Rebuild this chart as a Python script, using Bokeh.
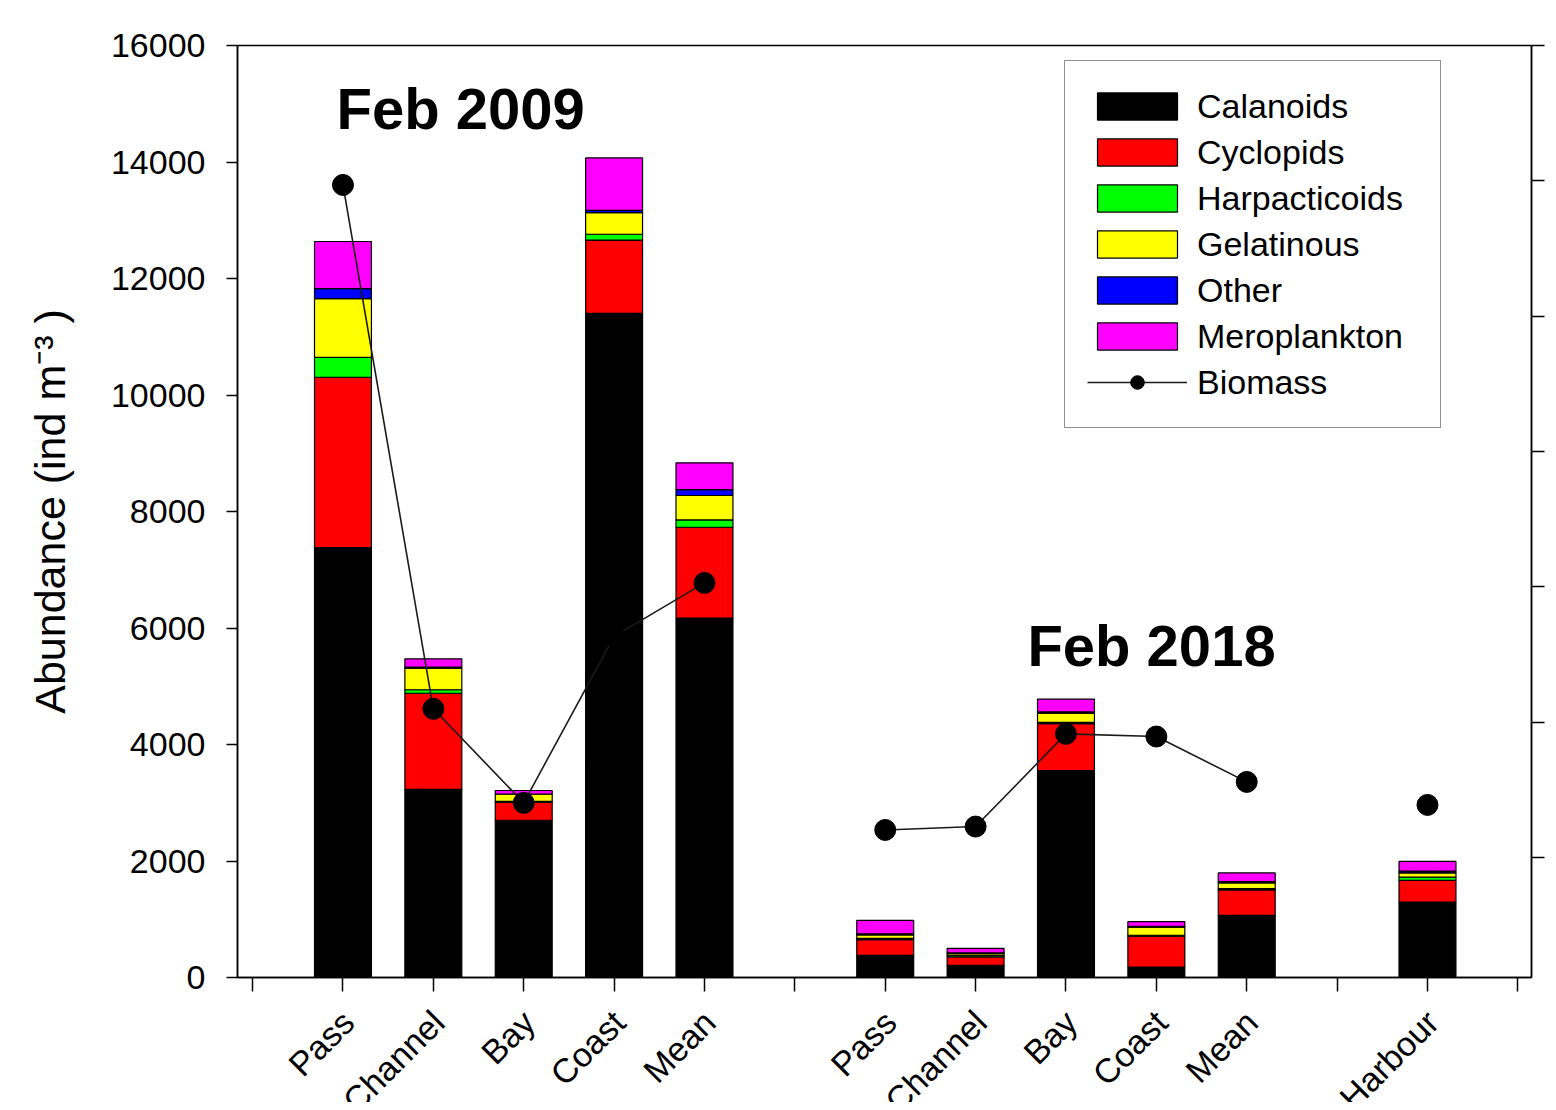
import math
from bokeh.plotting import figure
from bokeh.layouts import column
from bokeh.models import (Range1d, LinearAxis, FixedTicker, Legend, LegendItem,
                          Label, ColumnDataSource)
from bokeh.embed import file_html
from bokeh.resources import INLINE
from bokeh.core.properties import value

# ---------------- data ----------------
sites = ["Pass", "Channel", "Bay", "Coast", "Mean",
         "Pass", "Channel", "Bay", "Coast", "Mean", "Harbour"]
years = ["2009"] * 5 + ["2018"] * 6
slot = [1, 2, 3, 4, 5, 7, 8, 9, 10, 11, 13]

calanoids     = [7380, 3230, 2700, 11400, 6170, 380, 210, 3550, 180, 1065, 1295]
cyclopids     = [2925, 1650,  310,  1260, 1560, 270, 145,  810, 530,  440,  372]
harpacticoids = [ 340,   60,   15,   100,  125,  20,  30,   20,  15,   20,   55]
gelatinous    = [1010,  370,  125,   370,  420,  60,  30,  160, 140,  100,   75]
other         = [ 170,   20,    0,    40,  100,  20,  10,   20,  15,   20,   30]
meroplankton  = [ 810,  140,   60,   900,  460, 230,  75,  220,  80,  150,  165]
biomass       = [99.4, 22.0,  8.1,  32.7, 40.6, 4.1, 4.6, 18.3, 17.9, 11.2,  7.8]

series = ["Calanoids", "Cyclopids", "Harpacticoids", "Gelatinous", "Other", "Meroplankton"]
colors = ["#000000", "#FF0000", "#00FF00", "#FFFF00", "#0000FF", "#FF00FF"]
x_ticks = list(range(0, 15))
y_ticks = list(range(0, 16001, 2000))
bio_ticks = [0, 20, 40, 60, 80, 100, 120]
group_titles = [("Feb 2009", 0.928, 14918), ("Feb 2018", 8.573, 5705)]

FONT = "Liberation Sans"

src = ColumnDataSource(dict(x=slot, site=sites, year=years,
                            Calanoids=calanoids, Cyclopids=cyclopids,
                            Harpacticoids=harpacticoids, Gelatinous=gelatinous,
                            Other=other, Meroplankton=meroplankton, biomass=biomass))

# biomass line with breaks where slots are not adjacent
lx, ly = [], []
for i, (s, b) in enumerate(zip(slot, biomass)):
    if i > 0 and s - slot[i - 1] > 1:
        lx.append(float("nan")); ly.append(float("nan"))
    lx.append(s); ly.append(b)

xr = Range1d(-0.167, 14.151)
p = figure(width=1548, height=997,
           x_range=xr, y_range=Range1d(0, 16000),
           output_backend="svg", toolbar_location=None,
           min_border_left=237, min_border_right=17,
           min_border_top=45, min_border_bottom=20)
p.background_fill_color = "white"
p.border_fill_color = "white"
p.xgrid.visible = False
p.ygrid.visible = False
p.outline_line_color = "black"
p.outline_line_width = 1.5

p.extra_y_ranges = {"bio": Range1d(-17.7, 120)}

# bars
bars = p.vbar_stack(series, x="x", width=0.63, source=src, color=colors,
                    line_color="black", line_width=1.2)
for r, c in zip(bars, colors):
    r.glyph.fill_color = c
    r.glyph.line_color = "black"

# biomass
line_r = p.line(lx, ly, y_range_name="bio", line_color="#1a1a1a", line_width=1.6)
pts_r = p.scatter("x", "biomass", source=src, y_range_name="bio", size=21,
                  marker="circle", fill_color="black", line_color="black")

# axes
xa = p.xaxis[0]
xa.ticker = FixedTicker(ticks=x_ticks)
xa.major_label_overrides = {t: "" for t in x_ticks}
xa.major_label_standoff = 0
xa.major_tick_out = 14
xa.major_tick_in = 0
xa.minor_tick_out = 0
xa.minor_tick_in = 0
xa.axis_line_width = 1.5
xa.major_tick_line_width = 1.5

ya = p.yaxis[0]
ya.ticker = FixedTicker(ticks=y_ticks)
ya.major_label_text_font = FONT
ya.major_label_text_font_size = "34px"
ya.major_label_text_color = "black"
ya.major_label_standoff = 21
ya.major_tick_out = 11
ya.major_tick_in = 0
ya.minor_tick_out = 0
ya.minor_tick_in = 0
ya.axis_line_width = 1.5
ya.major_tick_line_width = 1.5
ya.axis_label = "Abundance (ind m\u207b\u00b3 )"
ya.axis_label_text_font = FONT
ya.axis_label_text_font_size = "43px"
ya.axis_label_text_font_style = "normal"
ya.axis_label_text_color = "black"
ya.axis_label_standoff = 34

ra = LinearAxis(y_range_name="bio", ticker=FixedTicker(ticks=bio_ticks))
ra.major_label_overrides = {t: "" for t in bio_ticks}
ra.major_label_standoff = 0
ra.major_tick_out = 13
ra.major_tick_in = 0
ra.minor_tick_out = 0
ra.minor_tick_in = 0
ra.axis_line_width = 1.5
ra.major_tick_line_width = 1.5
p.add_layout(ra, "right")

# group titles
for txt, tx, ty in group_titles:
    p.add_layout(Label(x=tx, y=ty, text=txt, text_font=FONT,
                       text_font_size="58px", text_font_style="bold",
                       text_baseline="alphabetic", text_color="black"))

# legend
items = [LegendItem(label=n, renderers=[r]) for n, r in zip(series, bars)]
items.append(LegendItem(label="Biomass", renderers=[line_r, pts_r]))
legend = Legend(items=items, location=(827, 549),
                label_text_font=FONT, label_text_font_size="34px",
                label_text_color="black",
                glyph_width=100, glyph_height=34, label_height=46,
                label_width=221, label_standoff=10, spacing=0,
                padding=22, margin=0,
                border_line_color="#222222", border_line_width=1.5,
                background_fill_color="white", background_fill_alpha=1.0)
p.add_layout(legend)

# strip under the plot carrying the rotated category labels
pl = figure(width=1548, height=105, x_range=xr, y_range=Range1d(0, 105),
            output_backend="svg", toolbar_location=None,
            x_axis_type=None, y_axis_type=None,
            min_border_left=237, min_border_right=17,
            min_border_top=0, min_border_bottom=0)
pl.xgrid.visible = False
pl.ygrid.visible = False
pl.outline_line_color = None
pl.background_fill_color = "white"
pl.border_fill_color = "white"
lab_src = ColumnDataSource(dict(x=slot, text=sites))
pl.text(x="x", y=86, text="text", source=lab_src, angle=math.pi / 4,
        text_align="right", text_baseline="middle", x_offset=5,
        text_font=value(FONT), text_font_size=value("34px"), text_color="black")

layout = column(p, pl, spacing=0)
open("out.html", "w").write(file_html(layout, INLINE))
